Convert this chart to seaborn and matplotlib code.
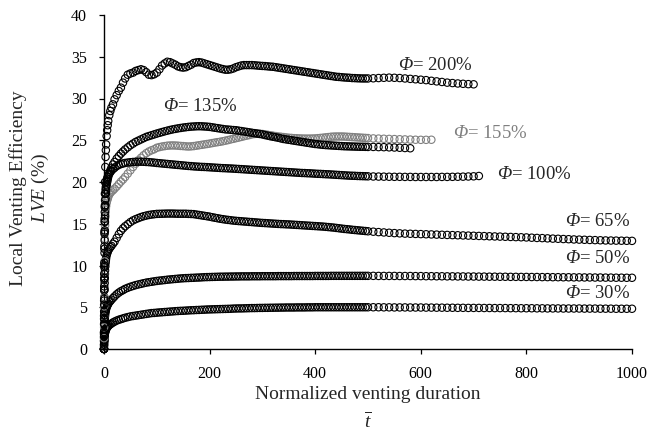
import matplotlib.pyplot as plt
import seaborn as sns

# normalized venting duration (shared sampling grid)
t_early = [0, 0.1, 0.2, 0.3, 0.4, 0.5, 0.6, 0.8, 1, 1.25,
           1.5, 1.75, 2, 2.5, 3, 3.5, 4, 5, 6, 7,
           8, 10, 12, 14, 17, 20, 24, 28, 32, 36,
           40, 45, 50, 55, 60, 65, 70, 75, 80, 85,
           90, 95]
t_mid = [100, 105, 110, 115, 120, 125, 130, 135, 140, 145,
         150, 155, 160, 165, 170, 175, 180, 185, 190, 195,
         200, 205, 210, 215, 220, 225, 230, 235, 240, 245,
         250, 255, 260, 265, 270, 275, 280, 285, 290, 295,
         300, 305, 310, 315, 320, 325, 330, 335, 340, 345,
         350, 355, 360, 365, 370, 375, 380, 385, 390, 395,
         400, 405, 410, 415, 420, 425, 430, 435, 440, 445,
         450, 455, 460, 465, 470, 475, 480, 485, 490, 495]
t_late = [500, 510, 520, 530, 540, 550, 560, 570, 580, 590,
          600, 610, 620, 630, 640, 650, 660, 670, 680, 690,
          700, 710, 720, 730, 740, 750, 760, 770, 780, 790,
          800, 810, 820, 830, 840, 850, 860, 870, 880, 890,
          900, 910, 920, 930, 940, 950, 960, 970, 980, 990,
          1000]
t_grid = t_early + t_mid + t_late

# LVE (%)
lve_30 = [0, 0.3, 0.55, 0.75, 0.9, 1.05, 1.15, 1.35, 1.5, 1.65,
          1.78, 1.88, 1.97, 2.1, 2.2, 2.3, 2.38, 2.5, 2.6, 2.68,
          2.75, 2.87, 2.97, 3.05, 3.17, 3.28, 3.4, 3.5, 3.58, 3.66,
          3.74, 3.82, 3.9, 3.95, 4.0, 4.05, 4.1, 4.15, 4.2, 4.25,
          4.3, 4.32,
          4.35, 4.38, 4.4, 4.43, 4.45, 4.48, 4.5, 4.53, 4.55, 4.57,
          4.58, 4.6, 4.62, 4.64, 4.65, 4.67, 4.68, 4.7, 4.71, 4.73,
          4.74, 4.75, 4.76, 4.77, 4.78, 4.79, 4.8, 4.81, 4.82, 4.84,
          4.85, 4.86, 4.86, 4.87, 4.88, 4.89, 4.9, 4.9, 4.91, 4.92,
          4.92, 4.93, 4.93, 4.94, 4.94, 4.95, 4.95, 4.96, 4.96, 4.97,
          4.97, 4.97, 4.97, 4.98, 4.98, 4.98, 4.98, 4.99, 4.99, 4.99,
          5.0, 5.0, 5.0, 5.0, 5.0, 5.0, 5.0, 5.0, 5.0, 5.0,
          5.0, 5.0, 5.0, 5.0, 5.0, 5.0, 5.0, 5.0, 5.0, 5.0,
          5.0, 5.0, 5.0, 4.99, 4.99, 4.98, 4.98, 4.98, 4.97, 4.97,
          4.97, 4.96, 4.96, 4.95, 4.95, 4.94, 4.94, 4.93, 4.93, 4.92,
          4.92, 4.92, 4.91, 4.91, 4.9, 4.9, 4.9, 4.89, 4.89, 4.88,
          4.88, 4.88, 4.87, 4.87, 4.86, 4.86, 4.86, 4.85, 4.85, 4.85,
          4.85, 4.84, 4.84, 4.84, 4.83, 4.83, 4.83, 4.82, 4.82, 4.82,
          4.82]

lve_50 = [0, 0.5, 0.95, 1.35, 1.7, 2.0, 2.3, 2.75, 3.1, 3.45,
          3.7, 3.9, 4.05, 4.3, 4.5, 4.65, 4.8, 5.0, 5.15, 5.3,
          5.4, 5.6, 5.75, 5.9, 6.1, 6.3, 6.55, 6.75, 6.92, 7.05,
          7.2, 7.33, 7.45, 7.55, 7.65, 7.73, 7.8, 7.88, 7.95, 8.0,
          8.05, 8.1,
          8.15, 8.19, 8.22, 8.26, 8.3, 8.33, 8.36, 8.39, 8.42, 8.45,
          8.47, 8.49, 8.5, 8.52, 8.53, 8.55, 8.56, 8.58, 8.6, 8.61,
          8.62, 8.63, 8.64, 8.65, 8.66, 8.66, 8.67, 8.67, 8.68, 8.68,
          8.69, 8.69, 8.7, 8.7, 8.7, 8.7, 8.71, 8.71, 8.71, 8.71,
          8.72, 8.72, 8.72, 8.72, 8.72, 8.72, 8.73, 8.73, 8.73, 8.73,
          8.73, 8.73, 8.74, 8.74, 8.74, 8.74, 8.74, 8.74, 8.74, 8.74,
          8.75, 8.75, 8.75, 8.75, 8.75, 8.75, 8.76, 8.76, 8.76, 8.76,
          8.76, 8.76, 8.76, 8.76, 8.76, 8.76, 8.76, 8.76, 8.76, 8.76,
          8.76, 8.76, 8.75, 8.75, 8.75, 8.75, 8.74, 8.74, 8.74, 8.73,
          8.73, 8.72, 8.72, 8.71, 8.71, 8.7, 8.7, 8.69, 8.69, 8.68,
          8.68, 8.67, 8.67, 8.66, 8.66, 8.65, 8.65, 8.64, 8.64, 8.63,
          8.63, 8.62, 8.62, 8.61, 8.61, 8.6, 8.6, 8.59, 8.59, 8.58,
          8.58, 8.57, 8.57, 8.56, 8.56, 8.55, 8.55, 8.54, 8.54, 8.53,
          8.53]

lve_65 = [0, 1, 2, 2.9, 3.7, 4.4, 5.1, 6.2, 7.1, 7.9,
          8.5, 9.0, 9.4, 9.9, 10.3, 10.6, 10.85, 11.2, 11.45, 11.65,
          11.8, 12.0, 12.2, 12.35, 12.6, 12.85, 13.3, 13.75, 14.15, 14.45,
          14.7, 14.95, 15.2, 15.4, 15.55, 15.68, 15.8, 15.9, 15.98, 16.05,
          16.1, 16.14,
          16.18, 16.19, 16.2, 16.21, 16.22, 16.22, 16.22, 16.21, 16.2, 16.2,
          16.2, 16.2, 16.18, 16.17, 16.15, 16.1, 16.05, 16.0, 15.95, 15.9,
          15.85, 15.78, 15.72, 15.66, 15.6, 15.55, 15.5, 15.46, 15.42, 15.38,
          15.35, 15.32, 15.3, 15.27, 15.25, 15.22, 15.2, 15.17, 15.15, 15.12,
          15.1, 15.08, 15.06, 15.04, 15.02, 15.0, 14.98, 14.96, 14.95, 14.93,
          14.92, 14.9, 14.88, 14.86, 14.84, 14.82, 14.8, 14.78, 14.76, 14.74,
          14.72, 14.7, 14.68, 14.66, 14.63, 14.6, 14.57, 14.54, 14.5, 14.46,
          14.42, 14.38, 14.35, 14.32, 14.28, 14.25, 14.22, 14.19, 14.16, 14.13,
          14.1, 14.05, 14.0, 13.96, 13.92, 13.88, 13.85, 13.82, 13.8, 13.78,
          13.76, 13.74, 13.72, 13.7, 13.68, 13.66, 13.64, 13.62, 13.6, 13.58,
          13.56, 13.54, 13.52, 13.5, 13.48, 13.46, 13.44, 13.42, 13.4, 13.38,
          13.36, 13.33, 13.3, 13.28, 13.25, 13.22, 13.2, 13.17, 13.15, 13.12,
          13.1, 13.08, 13.06, 13.04, 13.02, 13.0, 12.99, 12.98, 12.97, 12.96,
          12.95]

lve_100 = [0, 1.8, 3.6, 5.3, 7, 8.5, 9.8, 12, 13.8, 15.3,
           16.4, 17.2, 17.8, 18.6, 19.1, 19.4, 19.7, 20.1, 20.4, 20.6,
           20.8, 21.0, 21.2, 21.35, 21.55, 21.7, 21.9, 22.05, 22.15, 22.22,
           22.28, 22.33, 22.37, 22.4, 22.42, 22.43, 22.43, 22.42, 22.4, 22.38,
           22.35, 22.32,
           22.28, 22.25, 22.22, 22.19, 22.16, 22.13, 22.1, 22.07, 22.04, 22.01,
           21.98, 21.95, 21.92, 21.9, 21.87, 21.85, 21.83, 21.81, 21.8, 21.78,
           21.76, 21.74, 21.72, 21.7, 21.68, 21.66, 21.65, 21.63, 21.62, 21.6,
           21.58, 21.56, 21.54, 21.52, 21.5, 21.48, 21.46, 21.44, 21.42, 21.4,
           21.38, 21.36, 21.34, 21.32, 21.3, 21.28, 21.26, 21.24, 21.22, 21.2,
           21.18, 21.16, 21.14, 21.12, 21.1, 21.08, 21.07, 21.05, 21.04, 21.02,
           21.0, 20.98, 20.97, 20.95, 20.93, 20.92, 20.9, 20.88, 20.86, 20.84,
           20.82, 20.8, 20.78, 20.76, 20.75, 20.74, 20.72, 20.71, 20.7, 20.69,
           20.68, 20.66, 20.65, 20.64, 20.63, 20.62, 20.62, 20.61, 20.61, 20.6,
           20.6, 20.6, 20.6, 20.6, 20.61, 20.61, 20.62, 20.63, 20.64, 20.66,
           20.68, 20.72]

lve_135 = [0, 1.5, 3, 4.5, 6, 7.2, 8.3, 10, 11.5, 13,
           14.2, 15.2, 16, 17.2, 18, 18.6, 19, 19.6, 20.0, 20.3,
           20.6, 21.0, 21.4, 21.7, 22.1, 22.4, 22.8, 23.1, 23.4, 23.65,
           23.9, 24.15, 24.4, 24.6, 24.8, 24.95, 25.1, 25.25, 25.4, 25.5,
           25.6, 25.7,
           25.8, 25.89, 25.98, 26.07, 26.15, 26.23, 26.3, 26.36, 26.42, 26.47,
           26.52, 26.56, 26.6, 26.63, 26.65, 26.67, 26.68, 26.67, 26.65, 26.63,
           26.6, 26.55, 26.5, 26.45, 26.4, 26.35, 26.3, 26.28, 26.25, 26.22,
           26.2, 26.15, 26.1, 26.05, 26.0, 25.95, 25.9, 25.85, 25.8, 25.75,
           25.7, 25.62, 25.55, 25.48, 25.42, 25.36, 25.3, 25.22, 25.15, 25.1,
           25.05, 25.0, 24.95, 24.9, 24.85, 24.8, 24.75, 24.7, 24.65, 24.6,
           24.55, 24.52, 24.48, 24.45, 24.42, 24.4, 24.38, 24.36, 24.34, 24.32,
           24.3, 24.28, 24.27, 24.26, 24.25, 24.24, 24.23, 24.22, 24.22, 24.21,
           24.2, 24.2, 24.18, 24.17, 24.15, 24.13, 24.1, 24.07, 24.04]

lve_155 = [0, 1.3, 2.6, 3.9, 5.1, 6.2, 7.2, 9, 10.5, 12,
           13.2, 14.1, 14.8, 15.8, 16.4, 16.8, 17.1, 17.5, 17.8, 18.0,
           18.2, 18.5, 18.7, 18.85, 19.0, 19.2, 19.45, 19.75, 20.05, 20.3,
           20.6, 21.0, 21.4, 21.8, 22.2, 22.6, 22.9, 23.2, 23.45, 23.65,
           23.8, 23.92,
           24.1, 24.18, 24.25, 24.3, 24.35, 24.37, 24.38, 24.37, 24.35, 24.32,
           24.3, 24.27, 24.25, 24.27, 24.3, 24.35, 24.4, 24.45, 24.5, 24.55,
           24.6, 24.66, 24.72, 24.77, 24.82, 24.88, 24.95, 25.02, 25.1, 25.17,
           25.25, 25.32, 25.4, 25.48, 25.55, 25.62, 25.7, 25.75, 25.8, 25.78,
           25.75, 25.7, 25.65, 25.6, 25.55, 25.5, 25.45, 25.42, 25.38, 25.34,
           25.3, 25.28, 25.25, 25.24, 25.22, 25.21, 25.2, 25.2, 25.2, 25.21,
           25.22, 25.25, 25.28, 25.31, 25.35, 25.38, 25.42, 25.44, 25.45, 25.45,
           25.45, 25.44, 25.42, 25.4, 25.38, 25.36, 25.34, 25.32, 25.3, 25.28,
           25.26, 25.22, 25.2, 25.18, 25.16, 25.14, 25.12, 25.1, 25.08, 25.06,
           25.05, 25.05, 25.06]

lve_200 = [0, 2, 4, 5.8, 7.5, 9, 10.3, 12.3, 14, 15.6,
           17, 18.6, 20, 21.8, 23, 23.8, 24.5, 25.5, 26.2, 26.8,
           27.3, 28.0, 28.5, 28.9, 29.3, 29.9, 30.4, 30.9, 31.3, 31.9,
           32.4, 32.85, 33.0, 33.1, 33.3, 33.4, 33.5, 33.4, 33.15, 32.85,
           32.8, 32.9,
           33.1, 33.5, 33.95, 34.2, 34.4, 34.35, 34.2, 34.05, 33.85, 33.75,
           33.7, 33.75, 33.9, 34.05, 34.25, 34.32, 34.35, 34.3, 34.2, 34.1,
           34.0, 33.9, 33.8, 33.7, 33.6, 33.52, 33.45, 33.45, 33.5, 33.6,
           33.75, 33.85, 33.95, 34.0, 34.0, 34.0, 34.0, 33.98, 33.95, 33.92,
           33.9, 33.88, 33.85, 33.82, 33.8, 33.75, 33.7, 33.65, 33.6, 33.55,
           33.5, 33.45, 33.4, 33.35, 33.3, 33.25, 33.2, 33.15, 33.1, 33.05,
           33.0, 32.95, 32.9, 32.85, 32.8, 32.75, 32.7, 32.65, 32.6, 32.58,
           32.55, 32.52, 32.5, 32.48, 32.45, 32.44, 32.42, 32.41, 32.4, 32.4,
           32.4, 32.42, 32.45, 32.48, 32.5, 32.48, 32.45, 32.4, 32.35, 32.3,
           32.25, 32.2, 32.12, 32.05, 31.98, 31.9, 31.85, 31.8, 31.76, 31.72,
           31.7]

curve_colors = ['black', 'black', 'black', '#808080', 'black', 'black', 'black']

sns.set_style('ticks')
plt.rcParams['font.family'] = ['Liberation Serif', 'DejaVu Serif']
plt.rcParams['mathtext.fontset'] = 'custom'
plt.rcParams['mathtext.rm'] = 'Liberation Serif'
plt.rcParams['mathtext.it'] = 'Liberation Serif:italic'
plt.rcParams['mathtext.sf'] = 'Liberation Serif:italic'  # italic capital Greek

fig = plt.figure(figsize=(6.51, 4.30), dpi=100)
ax = fig.add_axes([104 / 651, 1 - 349 / 430, 528 / 651, 334 / 430])

all_curves = [lve_30, lve_50, lve_65, lve_155, lve_100, lve_135, lve_200]
for vals, col in zip(all_curves, curve_colors):
    sns.scatterplot(x=t_grid[:len(vals)], y=vals, ax=ax, marker='o', s=28,
                    facecolors='none', edgecolor=col, linewidth=0.8,
                    clip_on=False, legend=False, zorder=3)

# curve annotations
phi = r'$\mathsf{\Phi}$= '
ax.text(557, 34.0, phi + '200%', fontsize=13.5, ha='left', va='center')
ax.text(112, 29.0, phi + '135%', fontsize=13.5, ha='left', va='center')
ax.text(661, 25.8, phi + '155%', fontsize=13.5, ha='left', va='center', color='#808080')
ax.text(744, 20.95, phi + '100%', fontsize=13.5, ha='left', va='center')
ax.text(996, 15.25, phi + '65%', fontsize=13.5, ha='right', va='center')
ax.text(996, 10.85, phi + '50%', fontsize=13.5, ha='right', va='center')
ax.text(996, 6.67, phi + '30%', fontsize=13.5, ha='right', va='center')

ax.set_xlim(0, 1000)
ax.set_ylim(0, 40)
ax.set_xticks([0, 200, 400, 600, 800, 1000])
ax.set_yticks(range(0, 41, 5))
ax.tick_params(direction='out', length=3.6, width=0.9, labelsize=11.5, pad=8.5, colors='black')
for s in ['left', 'bottom']:
    ax.spines[s].set_linewidth(1.0)
    ax.spines[s].set_color('black')
sns.despine(ax=ax)

ax.set_xlabel('Normalized venting duration\n' + r'$\overline{t}$', fontsize=14, linespacing=1.45, labelpad=3.2)
ax.set_ylabel('Local Venting Efficiency\n' + r'$\mathit{LVE}$ (%)', fontsize=14)
ax.yaxis.set_label_coords(-0.100, 0.482)

fig.savefig('out.png', dpi=100)
